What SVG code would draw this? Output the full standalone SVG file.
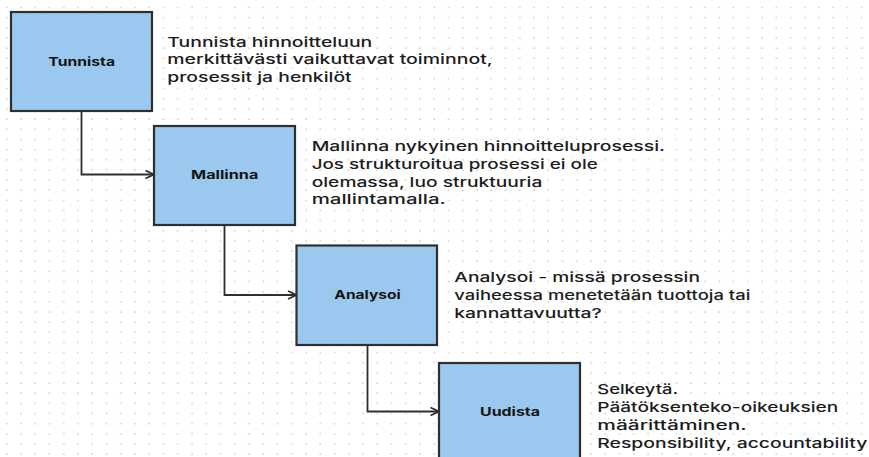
<svg xmlns="http://www.w3.org/2000/svg" width="869" height="457" viewBox="0 0 869 457">
  <defs>
    <pattern id="dots" patternUnits="userSpaceOnUse" x="0" y="0" width="14.25" height="10.15">
      <circle cx="6.8" cy="7.5" r="0.8" fill="#c9c9c9"/>
    </pattern>
    <marker id="arrow" markerUnits="userSpaceOnUse" markerWidth="12" markerHeight="12" refX="9.5" refY="5" orient="auto" viewBox="0 0 12 10">
      <path d="M1,1 L9.5,5 L1,9" fill="none" stroke="#2e2e2e" stroke-width="1.8" stroke-linejoin="miter"/>
    </marker>
    <style>
      .box { fill: #9ac8ee; stroke: #2f2f2f; stroke-width: 2.2; }
      .lbl { font-family: "Inter", "Liberation Sans", sans-serif; font-size: 12px; font-weight: 700; fill: #141414; text-anchor: middle; }
      .desc { font-family: "Inter", "Liberation Sans", sans-serif; font-size: 13.5px; font-weight: 500; fill: #1c1c1c; }
      .conn { fill: none; stroke: #2e2e2e; stroke-width: 1.8; marker-end: url(#arrow); }
    </style>
  </defs>
  <rect x="0" y="0" width="869" height="457" fill="#ffffff"/>
  <rect x="0" y="0" width="869" height="457" fill="url(#dots)"/>

  <g id="connectors">
    <path class="conn" d="M81.5,111 V174.5 H154"/>
    <path class="conn" d="M224.5,225 V295 H296.5"/>
    <path class="conn" d="M367.5,345 V411.5 H439"/>
  </g>

  <g id="node-tunnista">
    <rect class="box" x="11" y="12" width="141" height="99"/>
    <text class="lbl" x="81.7" y="65.7" textLength="66.7" lengthAdjust="spacingAndGlyphs">Tunnista</text>
    <text class="desc" x="167.3" y="46.7" textLength="205" lengthAdjust="spacingAndGlyphs">Tunnista hinnoitteluun</text>
    <text class="desc" x="167.3" y="64.2" textLength="325.4" lengthAdjust="spacingAndGlyphs">merkittävästi vaikuttavat toiminnot,</text>
    <text class="desc" x="167.3" y="81.5" textLength="184.4" lengthAdjust="spacingAndGlyphs">prosessit ja henkilöt</text>
  </g>

  <g id="node-mallinna">
    <rect class="box" x="154" y="126" width="141" height="99"/>
    <text class="lbl" x="224.7" y="179.3" textLength="67.3" lengthAdjust="spacingAndGlyphs">Mallinna</text>
    <text class="desc" x="311.7" y="150.7" textLength="353.3" lengthAdjust="spacingAndGlyphs">Mallinna nykyinen hinnoitteluprosessi.</text>
    <text class="desc" x="311.7" y="168.7" textLength="286" lengthAdjust="spacingAndGlyphs">Jos strukturoitua prosessi ei ole</text>
    <text class="desc" x="311.7" y="186.5" textLength="230.6" lengthAdjust="spacingAndGlyphs">olemassa, luo struktuuria</text>
    <text class="desc" x="311.7" y="204.2" textLength="134" lengthAdjust="spacingAndGlyphs">mallintamalla.</text>
  </g>

  <g id="node-analysoi">
    <rect class="box" x="296.5" y="245.5" width="140.5" height="99.5"/>
    <text class="lbl" x="367.5" y="299.3" textLength="66.4" lengthAdjust="spacingAndGlyphs">Analysoi</text>
    <text class="desc" x="454.3" y="282.3" textLength="245.7" lengthAdjust="spacingAndGlyphs">Analysoi - missä prosessin</text>
    <text class="desc" x="454.3" y="300" textLength="296" lengthAdjust="spacingAndGlyphs">vaiheessa menetetään tuottoja tai</text>
    <text class="desc" x="454.3" y="317.5" textLength="147.4" lengthAdjust="spacingAndGlyphs">kannattavuutta?</text>
  </g>

  <g id="node-uudista">
    <rect class="box" x="439" y="363" width="141" height="99"/>
    <text class="lbl" x="510" y="416" textLength="60" lengthAdjust="spacingAndGlyphs">Uudista</text>
    <text class="desc" x="597.3" y="394.3" textLength="80.7" lengthAdjust="spacingAndGlyphs">Selkeytä.</text>
    <text class="desc" x="597.3" y="412.3" textLength="241" lengthAdjust="spacingAndGlyphs">Päätöksenteko-oikeuksien</text>
    <text class="desc" x="597.3" y="430" textLength="149.4" lengthAdjust="spacingAndGlyphs">määrittäminen.</text>
    <text class="desc" x="597.3" y="447.5" textLength="270" lengthAdjust="spacingAndGlyphs">Responsibility, accountability</text>
  </g>
</svg>
